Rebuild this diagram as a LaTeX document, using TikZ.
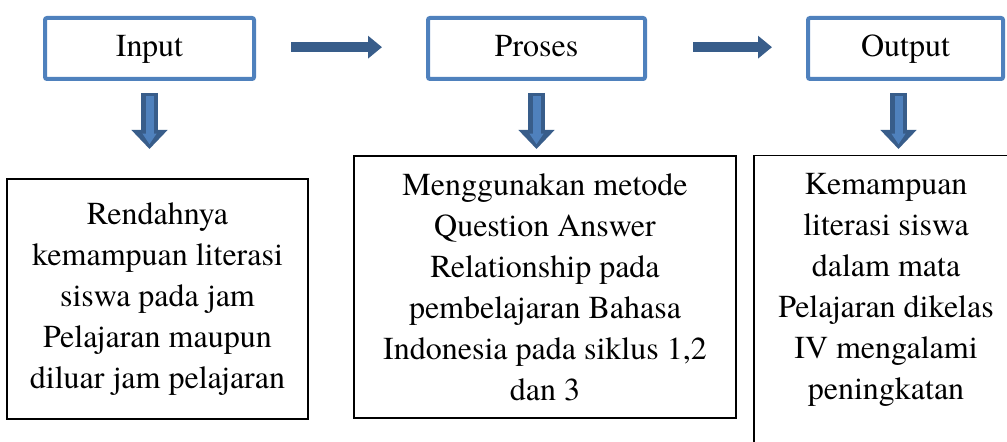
\documentclass[tikz,border=0pt]{standalone}
\usepackage{fontspec}
\setmainfont{TeX Gyre Termes}
\usetikzlibrary{arrows.meta}
\definecolor{boxblue}{HTML}{4F81BD}
\definecolor{darkblue}{HTML}{385D8A}
\begin{document}
\begin{tikzpicture}[x=0.75pt,y=-0.75pt,
stage/.style={draw=boxblue,line width=3pt,rounded corners=1.5pt,minimum height=45.75pt,text height=16pt,text depth=4pt,font=\fontsize{24}{30.75}\selectfont},
detail/.style={draw=black,line width=0.9pt,align=center,font=\fontsize{24}{30.75}\selectfont},
flow/.style={darkblue,line width=7.5pt,-{Triangle[width=16.5pt,length=10.5pt]}},
downout/.style={darkblue,line width=12.75pt,-{Triangle[width=26.25pt,length=14.25pt]}},
downin/.style={boxblue,line width=6pt,shorten <=2.25pt,shorten >=3.5pt,-{Triangle[width=10pt,length=8pt]}},
]
\useasboundingbox (0,0) rectangle (1007,442);
%stages
\node[stage,minimum width=156.75pt](in)at(149.5,48.5){Input};
\node[stage,minimum width=162.75pt](pro)at(536.5,48.5){Proses};
\node[stage,minimum width=146.25pt](out)at(905.5,48.5){Output};
%details
\node[detail,minimum width=225.75pt,minimum height=180pt](inx)at(157.5,299){Rendahnya\\kemampuan literasi\\siswa pada jam\\Pelajaran maupun\\diluar jam pelajaran};
\node[detail,minimum width=286.5pt,minimum height=196.5pt](prox)at(545,287){Menggunakan metode\\Question Answer\\Relationship pada\\pembelajaran Bahasa\\Indonesia pada siklus 1,2\\dan 3};
\node[detail,anchor=north,minimum width=198pt,inner ysep=13.6pt,text depth=40pt](outx)at(886,155){Kemampuan\\literasi siswa\\dalam mata\\Pelajaran dikelas\\IV mengalami\\peningkatan};
%arrows between stages
\draw[flow]([xshift=26.25pt,yshift=1pt]in.east)--([xshift=-33pt,yshift=1pt]pro.west);
\draw[flow]([xshift=34.5pt,yshift=1pt]pro.east)--([xshift=-25.5pt,yshift=1pt]out.west);
%arrows down
\draw[downout]([yshift=-9pt]in.south)--([yshift=-51pt]in.south);
\draw[downin]([yshift=-9pt]in.south)--([yshift=-51pt]in.south);
\draw[downout]([yshift=-9pt]pro.south)--([yshift=-51pt]pro.south);
\draw[downin]([yshift=-9pt]pro.south)--([yshift=-51pt]pro.south);
\draw[downout]([xshift=-5.25pt,yshift=-9pt]out.south)--([xshift=-5.25pt,yshift=-51pt]out.south);
\draw[downin]([xshift=-5.25pt,yshift=-9pt]out.south)--([xshift=-5.25pt,yshift=-51pt]out.south);
\end{tikzpicture}
\end{document}
